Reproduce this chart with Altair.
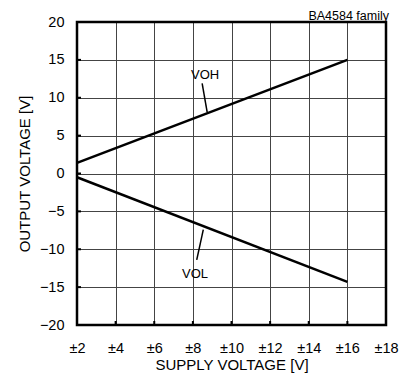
import altair as alt
import pandas as pd

supply = [2, 16]
voh = [1.4, 15.0]
vol = [-0.5, -14.3]

label_text = ["VOH", "VOL"]
label_x = [8.63, 8.11]
label_y = [13.0, -13.3]

leader_x1 = [8.48, 8.54]
leader_y1 = [11.9, -7.4]
leader_x2 = [8.74, 8.2]
leader_y2 = [8.1, -11.4]

x_ticks = [2, 4, 6, 8, 10, 12, 14, 16, 18]
y_ticks = [-20, -15, -10, -5, 0, 5, 10, 15, 20]

FONT = "Liberation Sans"
W, H = 309, 303

lines = pd.DataFrame({
    "supply": supply * 2,
    "v": voh + vol,
    "series": ["VOH"] * 2 + ["VOL"] * 2,
})
labels = pd.DataFrame({"supply": label_x, "v": label_y, "t": label_text})
leaders = pd.DataFrame({"supply": leader_x1, "v": leader_y1, "x2": leader_x2, "y2": leader_y2})
xt = pd.DataFrame({"supply": x_ticks})
yt = pd.DataFrame({"v": y_ticks})

xscale = alt.Scale(domain=[2, 18], nice=False, zero=False)
yscale = alt.Scale(domain=[-20, 20], nice=False, zero=False)


def xaxis():
    return alt.Axis(values=x_ticks, labelExpr="'±' + datum.value", title="SUPPLY VOLTAGE [V]",
                    grid=True, ticks=False, domain=False, labelPadding=16, titlePadding=3,
                    labelOverlap=False, labelFlush=False,
                    labelFontSize=14.5, titleFontSize=15, labelFont=FONT, titleFont=FONT,
                    titleFontWeight="normal", labelColor="black", titleColor="black",
                    gridColor="#444444", gridWidth=1)


def yaxis():
    return alt.Axis(values=y_ticks, title="OUTPUT VOLTAGE [V]",
                    grid=True, ticks=False, domain=False, labelPadding=13, titlePadding=7,
                    labelOverlap=False, labelFlush=False,
                    labelFontSize=14.5, titleFontSize=15, labelFont=FONT, titleFont=FONT,
                    titleFontWeight="normal", labelColor="black", titleColor="black",
                    gridColor="#444444", gridWidth=1)


def X(field="supply:Q"):
    return alt.X(field, scale=xscale, axis=xaxis(), title="SUPPLY VOLTAGE [V]")


def Y(field="v:Q"):
    return alt.Y(field, scale=yscale, axis=yaxis(), title="OUTPUT VOLTAGE [V]")


line_chart = alt.Chart(lines).mark_line(color="black", strokeWidth=2.5).encode(
    x=X(), y=Y(), detail="series:N",
)

text_chart = alt.Chart(labels).mark_text(font=FONT, fontSize=13, color="black").encode(
    x=X(), y=Y(), text="t:N",
)

leader_chart = alt.Chart(leaders).mark_rule(color="black", strokeWidth=1.5).encode(
    x=X(), y=Y(), x2="x2:Q", y2="y2:Q",
)

xnubs = alt.Chart(xt).mark_rule(color="black", strokeWidth=2).encode(
    x=X(), y=alt.value(H), y2=alt.value(H - 4),
)
ynubs = alt.Chart(yt).mark_rule(color="black", strokeWidth=2).encode(
    y=Y(), x=alt.value(0), x2=alt.value(4),
)

border = alt.Chart(pd.DataFrame({"a": [0]})).mark_rect(
    fill=None, stroke="black", strokeWidth=2.5
).encode(
    x=alt.value(0), x2=alt.value(W), y=alt.value(0), y2=alt.value(H)
)

family = alt.Chart(pd.DataFrame({"t": ["BA4584  family"]})).mark_text(
    font=FONT, fontSize=12.5, color="black", align="right", baseline="alphabetic"
).encode(
    x=alt.value(312),
    y=alt.value(-2),
    text="t:N",
)

chart = alt.layer(line_chart, leader_chart, text_chart, xnubs, ynubs, border, family).properties(
    width=W,
    height=H,
    autosize=alt.AutoSizeParams(type="none"),
    padding={"left": 69, "top": 14, "right": 15, "bottom": 54},
).configure_view(
    strokeWidth=0
).configure(background="white")

chart.save("out.html", embed_options={"renderer": "svg", "actions": False})
